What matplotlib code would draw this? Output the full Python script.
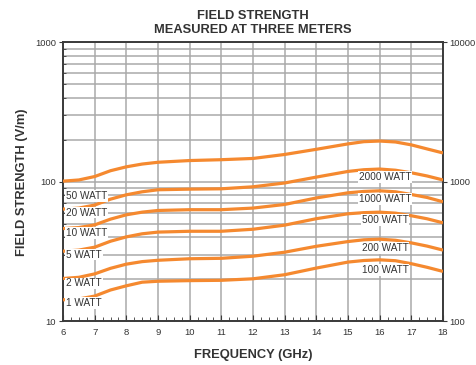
import matplotlib
matplotlib.use("Agg")
import matplotlib.pyplot as plt
from matplotlib.ticker import FixedLocator, NullFormatter, MultipleLocator

plt.rcParams['font.family'] = ['Liberation Sans', 'DejaVu Sans']

freq = [6, 6.5, 7, 7.5, 8, 8.5, 9, 10, 11, 12, 13, 14, 15, 15.5, 16, 16.5, 17, 17.5, 18]
w50 = [101, 103, 109, 120, 128, 134, 138, 142, 144, 147, 157, 171, 187, 194, 196, 193, 184, 172, 161]
w20 = [63.6, 64.7, 68, 75, 80.6, 84.7, 87.6, 88.5, 89, 92, 98, 108, 118.6, 122, 123.4, 121, 116, 110, 103]
w10 = [46.1, 46.9, 49, 53.9, 57.9, 60.5, 62.2, 63, 63, 64.7, 68.7, 76.5, 83.3, 85.2, 86.1, 84.7, 81, 77.1, 71.8]
w5 = [31.7, 32.3, 33.9, 37.4, 40.2, 42.3, 43.5, 44.1, 44.1, 45.6, 48.8, 54.3, 58.9, 60, 60.5, 59.5, 57, 54.2, 50.7]
w2 = [20.2, 20.6, 21.8, 23.9, 25.6, 26.7, 27.3, 28, 28.2, 29.2, 31.2, 34.4, 37.2, 38.3, 38.7, 38, 36.4, 34.5, 32.3]
w1 = [14.2, 14.4, 15.1, 16.7, 17.9, 19, 19.3, 19.5, 19.6, 20.1, 21.5, 24, 26.5, 27.2, 27.5, 27.1, 25.8, 24.3, 22.7]
series = [w50, w20, w10, w5, w2, w1]

left_labels = ["50 WATT", "20 WATT", "10 WATT", "5 WATT", "2 WATT", "1 WATT"]
left_label_y = [79, 60, 43, 30, 18.6, 13.5]
right_labels = ["2000 WATT", "1000 WATT", "500 WATT", "200 WATT", "100 WATT"]
right_label_y = [108, 75, 53, 33.5, 23.3]

title = "FIELD STRENGTH\nMEASURED AT THREE METERS"
xlabel = "FREQUENCY (GHz)"
ylabel = "FIELD STRENGTH (V/m)"

orange = '#f5892f'
grid_c = '#a9a9a9'
text_c = '#333333'

fig = plt.figure(figsize=(4.77, 3.65), dpi=100)
ax = fig.add_axes([0.1321, 0.1205, 0.7966, 0.7631])
ax.set_yscale('log')
ax.set_xlim(6, 18)
ax.set_ylim(10, 1000)

ax.yaxis.set_major_locator(FixedLocator([10, 100, 1000]))
minor_y = [m * d for d in (10, 100) for m in range(2, 10)]
ax.yaxis.set_minor_locator(FixedLocator(minor_y))
ax.yaxis.set_minor_formatter(NullFormatter())
ax.set_yticklabels(["10", "100", "1000"])
ax.xaxis.set_major_locator(MultipleLocator(1))
ax.xaxis.set_minor_locator(MultipleLocator(0.25))

ax.grid(True, which='major', axis='x', color=grid_c, linewidth=1.1, zorder=1)
ax.grid(True, which='both', axis='y', color=grid_c, linewidth=1.1, zorder=1)
ax.set_axisbelow(True)

for s in series:
    ax.plot(freq, s, color=orange, linewidth=2.3, solid_capstyle='butt',
            solid_joinstyle='round', zorder=3)

for lab, y in zip(left_labels, left_label_y):
    ax.text(6.1, y, lab, ha='left', va='center', fontsize=7.2, color=text_c,
            bbox=dict(facecolor='white', edgecolor='none', pad=0.6), zorder=4)
for lab, y in zip(right_labels, right_label_y):
    ax.text(16.17, y, lab, ha='center', va='center', fontsize=7.2, color=text_c,
            bbox=dict(facecolor='white', edgecolor='none', pad=0.6), zorder=4)

for sp in ax.spines.values():
    sp.set_color('#3a3a3a')
    sp.set_linewidth(1.4)

ax.tick_params(axis='x', which='major', direction='in', length=4, width=0.8,
               color='#3a3a3a', labelsize=6.8, labelcolor=text_c, pad=5)
ax.tick_params(axis='x', which='minor', direction='in', length=3, width=0.6, color='#3a3a3a')
ax.tick_params(axis='y', which='major', direction='out', length=3, width=0.8,
               color='#3a3a3a', labelsize=6.8, labelcolor=text_c, pad=2)
ax.tick_params(axis='y', which='minor', direction='in', length=2, width=0.6, color='#3a3a3a')

ax2 = ax.twinx()
ax2.set_yscale('log')
ax2.set_ylim(100, 10000)
ax2.yaxis.set_major_locator(FixedLocator([100, 1000, 10000]))
ax2.yaxis.set_minor_locator(FixedLocator([]))
ax2.set_yticklabels(["100", "1000", "10000"])
ax2.tick_params(axis='y', which='major', direction='out', length=3, width=0.8,
                color='#3a3a3a', labelsize=6.8, labelcolor=text_c, pad=1.5)
for sp in ax2.spines.values():
    sp.set_visible(False)

ax.set_xlabel(xlabel, fontsize=9.3, fontweight='bold', color=text_c, labelpad=9)
ax.set_ylabel(ylabel, fontsize=9.3, fontweight='bold', color=text_c, labelpad=5)
fig.text(0.531, 0.972, title, ha='center', va='top', fontsize=9.3,
         fontweight='bold', color=text_c, linespacing=1.25)

fig.savefig('out.png', dpi=100)
